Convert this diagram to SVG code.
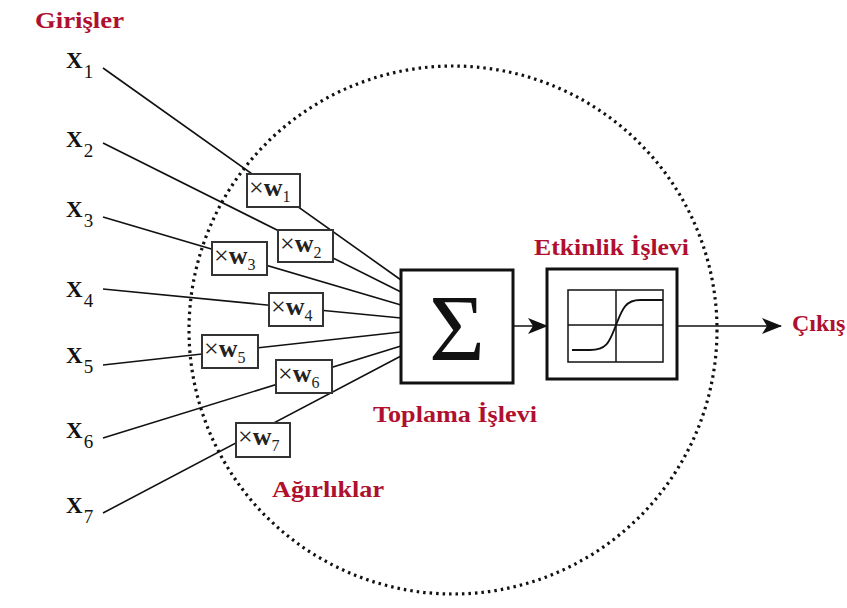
<svg xmlns="http://www.w3.org/2000/svg" width="847" height="608" viewBox="0 0 847 608">
  <style>
    .lbl { font-family: "Liberation Serif", "Times New Roman", serif; font-weight: bold; fill: #b01030; font-size: 24px; }
    .xin { font-family: "Liberation Serif", "Times New Roman", serif; font-weight: bold; fill: #111; font-size: 23px; }
    .sub { font-size: 19px; font-weight: normal; }
    .wt { font-family: "Liberation Serif", "Times New Roman", serif; fill: #222; font-size: 26px; }
    .wt .w { font-weight: bold; }
    .wsub { font-size: 16px; }
    .wbox { fill: #fff; stroke: #333; stroke-width: 2; }
    .wire { fill: none; stroke: #111; stroke-width: 1.6; }
    .block { fill: #fff; stroke: #111; stroke-width: 3; }
  </style>
  <defs>
    <marker id="arrow" viewBox="0 0 20 16" refX="19" refY="8" markerWidth="20" markerHeight="16" markerUnits="userSpaceOnUse" orient="auto">
      <path d="M0,0 L20,8 L0,16 L5,8 Z" fill="#111"/>
    </marker>
  </defs>

  <rect width="847" height="608" fill="#fff"/>

  <!-- neuron boundary -->
  <circle id="neuron" cx="453" cy="330" r="264" fill="none" stroke="#111" stroke-width="3.2" stroke-dasharray="2.5 4"/>

  <!-- titles -->
  <text class="lbl" x="35" y="28" textLength="89" lengthAdjust="spacingAndGlyphs">Girişler</text>
  <text class="lbl" x="272" y="497" textLength="112" lengthAdjust="spacingAndGlyphs">Ağırlıklar</text>
  <text class="lbl" x="373" y="422" textLength="164" lengthAdjust="spacingAndGlyphs">Toplama İşlevi</text>
  <text class="lbl" x="534" y="255" textLength="155" lengthAdjust="spacingAndGlyphs">Etkinlik İşlevi</text>
  <text class="lbl" x="792" y="331">Çıkış</text>

  <!-- connectors -->
  <g id="connectors">
    <line class="wire" x1="103" y1="68" x2="401" y2="280"/>
    <line class="wire" x1="103" y1="143" x2="401" y2="292"/>
    <line class="wire" x1="103" y1="217" x2="401" y2="305"/>
    <line class="wire" x1="103" y1="289" x2="401" y2="318"/>
    <line class="wire" x1="103" y1="365" x2="401" y2="332"/>
    <line class="wire" x1="103" y1="438" x2="401" y2="346"/>
    <line class="wire" x1="103" y1="513" x2="401" y2="356"/>
    <line class="wire" x1="513" y1="326" x2="547" y2="326" marker-end="url(#arrow)"/>
    <line class="wire" x1="677" y1="326" x2="781" y2="326" marker-end="url(#arrow)"/>
  </g>

  <!-- inputs -->
  <g id="x1"><text class="xin" x="66" y="68">X<tspan class="sub" dx="1" dy="10">1</tspan></text></g>
  <g id="x2"><text class="xin" x="66" y="147">X<tspan class="sub" dx="1" dy="10">2</tspan></text></g>
  <g id="x3"><text class="xin" x="66" y="217">X<tspan class="sub" dx="1" dy="10">3</tspan></text></g>
  <g id="x4"><text class="xin" x="66" y="297">X<tspan class="sub" dx="1" dy="10">4</tspan></text></g>
  <g id="x5"><text class="xin" x="66" y="363">X<tspan class="sub" dx="1" dy="10">5</tspan></text></g>
  <g id="x6"><text class="xin" x="66" y="438">X<tspan class="sub" dx="1" dy="10">6</tspan></text></g>
  <g id="x7"><text class="xin" x="66" y="513">X<tspan class="sub" dx="1" dy="10">7</tspan></text></g>

  <!-- weights -->
  <g id="w1"><rect class="wbox" x="247" y="174" width="53" height="33"/><text class="wt" x="249" y="196">×<tspan class="w">w</tspan><tspan class="wsub" dx="0" dy="6">1</tspan></text></g>
  <g id="w2"><rect class="wbox" x="278" y="230" width="55" height="32"/><text class="wt" x="280" y="252">×<tspan class="w">w</tspan><tspan class="wsub" dx="0" dy="6">2</tspan></text></g>
  <g id="w3"><rect class="wbox" x="212" y="242" width="55" height="33"/><text class="wt" x="214" y="264">×<tspan class="w">w</tspan><tspan class="wsub" dx="0" dy="6">3</tspan></text></g>
  <g id="w4"><rect class="wbox" x="269" y="293" width="54" height="33"/><text class="wt" x="271" y="315">×<tspan class="w">w</tspan><tspan class="wsub" dx="0" dy="6">4</tspan></text></g>
  <g id="w5"><rect class="wbox" x="202" y="335" width="56" height="33"/><text class="wt" x="204" y="357">×<tspan class="w">w</tspan><tspan class="wsub" dx="0" dy="6">5</tspan></text></g>
  <g id="w6"><rect class="wbox" x="276" y="360" width="56" height="33"/><text class="wt" x="278" y="382">×<tspan class="w">w</tspan><tspan class="wsub" dx="0" dy="6">6</tspan></text></g>
  <g id="w7"><rect class="wbox" x="236" y="423" width="54" height="34"/><text class="wt" x="238" y="445">×<tspan class="w">w</tspan><tspan class="wsub" dx="0" dy="6">7</tspan></text></g>

  <!-- summation -->
  <g id="sum">
    <rect class="block" x="401" y="270" width="112" height="113"/>
    <text x="457" y="361" text-anchor="middle" font-family="Liberation Serif, Times New Roman, serif" font-size="96" fill="#111">Σ</text>
  </g>

  <!-- activation -->
  <g id="activation">
    <rect class="block" x="547" y="269" width="130" height="110"/>
    <rect x="568" y="290" width="95" height="72" fill="none" stroke="#111" stroke-width="1.5"/>
    <line x1="616" y1="290" x2="616" y2="362" stroke="#111" stroke-width="1.5"/>
    <line x1="568" y1="325" x2="663" y2="325" stroke="#111" stroke-width="1.5"/>
    <path d="M572,350 L590,350 C608,350 610,340 616,325 C622,310 625,300 640,300 L663,300" fill="none" stroke="#111" stroke-width="1.8"/>
  </g>
</svg>
